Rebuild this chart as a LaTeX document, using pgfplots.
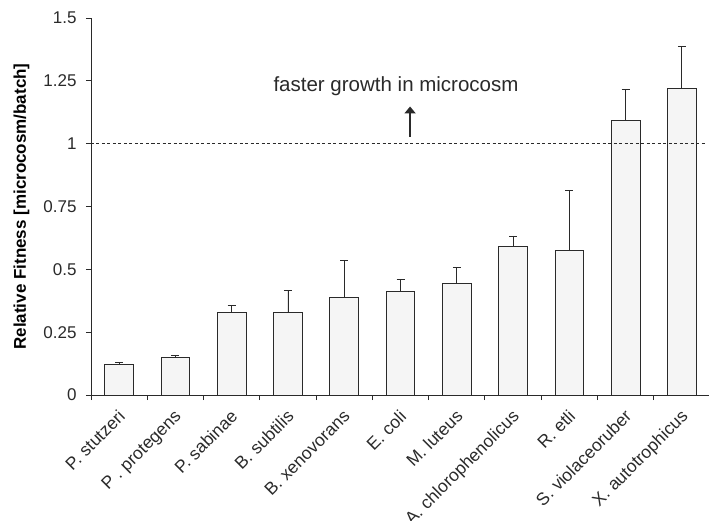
\documentclass[border=0pt]{standalone}
\usepackage{fontspec}
\setmainfont{Liberation Sans}
\usepackage{pgfplots}
\pgfplotsset{compat=1.18}
\usetikzlibrary{arrows.meta}
\definecolor{barfill}{HTML}{F5F5F5}
\definecolor{edge}{HTML}{2A2A2A}
\begin{document}
\begin{tikzpicture}
\begin{axis}[
  scale only axis,
  width=619pt, height=377pt,
  xmin=-0.5, xmax=10.5,
  ymin=0, ymax=1.5,
  axis lines*=left,
  axis line style={edge, line width=0.9pt},
  xtick={0,...,10},
  xticklabels={P. stutzeri, P . protegens, P. sabinae, B. subtilis, B. xenovorans, E. coli, M. luteus, A. chlorophenolicus, R. etli, S. violaceoruber, X. autotrophicus},
  x tick label style={xshift=-2pt, yshift=-7pt, rotate=45, anchor=north east, font=\fontsize{17.5}{19}\selectfont, inner sep=1pt},
  major x tick style={draw=none},
  minor xtick={-0.5,0.5,...,10.5},
  minor x tick style={edge, line width=0.9pt},
  minor tick length=5pt,
  ytick={0,0.25,0.5,0.75,1,1.25,1.5},
  yticklabels={0,0.25,0.5,0.75,1,1.25,1.5},
  y tick label style={font=\fontsize{17}{19}\selectfont, xshift=-6pt},
  y tick style={edge, line width=0.9pt},
  major tick length=5pt,
  tick align=outside,
  ylabel={\textbf{Relative Fitness [microcosm/batch]}},
  ylabel style={font=\fontsize{17}{19}\selectfont},
  ylabel shift=7pt,
  ticklabel style={text=edge},
  ybar, bar width=28.7pt,
  clip=false,
]
\addplot[ybar, fill=barfill, draw=edge, line width=0.8pt,
  error bars/.cd, y dir=plus, y explicit,
  error bar style={edge, line width=0.8pt},
  error mark options={rotate=90, mark size=4pt, edge, line width=0.8pt}]
  table[x=x, y=y, y error=e] {
x y e
0 0.123 0.008
1 0.151 0.005
2 0.328 0.028
3 0.328 0.087
4 0.389 0.146
5 0.414 0.044
6 0.443 0.065
7 0.590 0.043
8 0.576 0.237
9 1.094 0.121
10 1.220 0.166
};
\addplot[sharp plot, dashed, dash pattern=on 3pt off 2.5pt, edge, line width=0.9pt] coordinates {(-0.5,1) (10.42,1)};
\node[font=\fontsize{20.5}{23}\selectfont, text=edge] at (axis cs:4.92,1.227) {faster growth in microcosm};
\draw[-{Triangle[width=11pt,length=7pt]}, line width=2.2pt, edge] (axis cs:5.17,1.028) -- (axis cs:5.17,1.148);
\end{axis}
\pgfresetboundingbox
\path[use as bounding box] (-91pt,-125pt) rectangle (618pt,395pt);
\end{tikzpicture}
\end{document}
